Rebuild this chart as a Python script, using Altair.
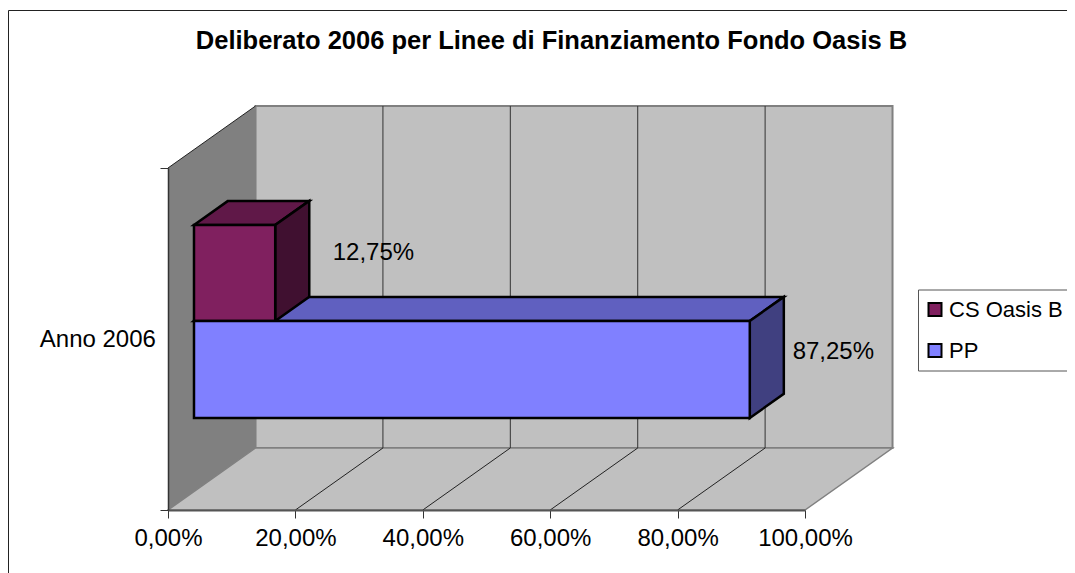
import altair as alt
import pandas as pd

FONT = "Liberation Sans"
TITLE = "Deliberato 2006 per Linee di Finanziamento Fondo Oasis B"
CATEGORY = "Anno 2006"
SERIES = ["CS Oasis B", "PP"]
VALUES = [12.75, 87.25]
TICKS = [0, 20, 40, 60, 80, 100]
FRONT = ["#80205F", "#8080FF"]
TOP = ["#601848", "#6060C0"]
SIDE = ["#401030", "#404080"]

# oblique projection: one unit of depth moves this far along the two axes
DX, DY = 13.74, 0.1813
D0, D1 = 0.297, 0.686
LEVELS = [(0.4988, 0.7795), (0.2152, 0.4988)]
LABEL_SHIFT = [19.5, 17.2]
LABEL_LEVEL = [0.7515, 0.462]

X = alt.X("x:Q", scale=alt.Scale(domain=[0, 100], nice=False, zero=False), title=None,
          axis=alt.Axis(values=TICKS, grid=False, labelExpr="replace(format(datum.value,'.2f'),'.',',')+'%'",
                        labelFont=FONT, labelFontSize=24, labelColor="black", labelPadding=8, labelFlush=False,
                        labelOverlap=False, tickSize=8, tickColor="#333333", domainColor="#555555", domainWidth=2,
                        zindex=1))
Y = alt.Y("y:Q", scale=alt.Scale(domain=[0, 1], nice=False, zero=False), title=None,
          axis=alt.Axis(values=[0, 1], grid=False, labels=False, tickSize=8, tickColor="#333333",
                        domainColor="#333333", domainWidth=1.5, zindex=1))
XP, YP = X, Y


def vface(x0, x1, t0, fill, stroke, sw):
    """face with vertical end edges: x0->x1 are (x, lower level), t0 the upper levels"""
    df = pd.DataFrame({"x": [x0[0], x1[0]], "y": [x0[1], x1[1]], "y2": [t0[0], t0[1]]})
    mark = dict(orient="vertical", fill=fill, strokeJoin="miter")
    if stroke:
        mark.update(stroke=stroke, strokeWidth=sw)
    return alt.Chart(df).mark_area(**mark).encode(x=XP, y=YP, y2="y2:Q")


def hface(y0, y1, x0, x1, fill, stroke, sw):
    """face with horizontal end edges: at level y0 from x0[0] to x1[0], at y1 from x0[1] to x1[1]"""
    df = pd.DataFrame({"y": [y0, y1], "x": [x0[0], x0[1]], "x2": [x1[0], x1[1]]})
    return alt.Chart(df).mark_area(orient="horizontal", fill=fill, stroke=stroke, strokeWidth=sw, strokeJoin="miter").encode(
        y=YP, x=XP, x2="x2:Q")


def line(pts, color, sw):
    df = pd.DataFrame({"x": [p[0] for p in pts], "y": [p[1] for p in pts]})
    return alt.Chart(df).mark_line(color=color, strokeWidth=sw).encode(x=XP, y=YP)


layers = []
# outer frame, cut off by the right and lower page edges
layers.append(alt.Chart(pd.DataFrame({"a": [0]})).mark_rect(fill="white", stroke="#222222", strokeWidth=1).encode(
    x=alt.value(-159.5), x2=alt.value(1000), y=alt.value(-157.5), y2=alt.value(500)))

# walls and floor
layers.append(vface((0, 0), (DX, DY), (1, 1 + DY), "#808080", None, 0))
layers.append(alt.Chart(pd.DataFrame({"x": [DX], "x2": [100 + DX], "y": [DY], "y2": [1 + DY]})).mark_rect(
    fill="#C0C0C0", stroke="#808080", strokeWidth=2).encode(x=XP, x2="x2:Q", y=YP, y2="y2:Q"))
layers.append(hface(0, DY, (0, DX), (100, 100 + DX), "#C0C0C0", "#808080", 1.5))
layers.append(line([(0, 1), (DX, 1 + DY)], "#222222", 1))
for t in TICKS[1:-1]:
    layers.append(line([(t, 0), (t + DX, DY)], "#222222", 1))
    layers.append(line([(t + DX, DY), (t + DX, 1 + DY)], "#333333", 1))

# bars, lower series first
for i in [1, 0]:
    v = VALUES[i]
    lo, hi = LEVELS[i]
    xa, xb = D0 * DX, v + D0 * DX
    xc, xd = D1 * DX, v + D1 * DX
    dya, dyb = D0 * DY, D1 * DY
    layers.append(hface(hi + dya, hi + dyb, (xa, xc), (xb, xd), TOP[i], "black", 2.5))
    layers.append(vface((xb, lo + dya), (xd, lo + dyb), (hi + dya, hi + dyb), SIDE[i], "black", 2.5))

front = pd.DataFrame({
    "series": SERIES,
    "x": [D0 * DX] * 2,
    "x2": [v + D0 * DX for v in VALUES],
    "y": [l[0] + D0 * DY for l in LEVELS],
    "y2": [l[1] + D0 * DY for l in LEVELS],
})
layers.append(alt.Chart(front).mark_rect(stroke="black", strokeWidth=2.5).encode(
    x=XP, x2="x2:Q", y=YP, y2="y2:Q",
    color=alt.Color("series:N", scale=alt.Scale(domain=SERIES, range=FRONT), legend=alt.Legend(
        orient="none", legendX=750, legendY=121.5, title=None, fillColor="white", strokeColor="#555555",
        padding=9, symbolType="square", symbolSize=169, symbolStrokeColor="black", symbolStrokeWidth=2,
        symbolOffset=-3, labelFont=FONT, labelFontSize=22, labelColor="black", labelOffset=3, rowPadding=19,
        labelLimit=300))))

labels = pd.DataFrame({
    "x": [v + s for v, s in zip(VALUES, LABEL_SHIFT)],
    "y": LABEL_LEVEL,
    "t": [f"{v:.2f}".replace(".", ",") + "%" for v in VALUES],
})
layers.append(alt.Chart(labels).mark_text(font=FONT, fontSize=24, color="black").encode(x=XP, y=YP, text="t:N"))
layers.append(alt.Chart(pd.DataFrame({"x": [-1.9], "y": [0.497], "t": [CATEGORY]})).mark_text(
    font=FONT, fontSize=24, color="black", align="right").encode(x=XP, y=YP, text="t:N"))

chart = alt.layer(*layers).resolve_scale(x="shared", y="shared").properties(
    width=637, height=342,
    padding={"left": 160, "top": 160, "right": 262, "bottom": 63},
    autosize=alt.AutoSizeParams(type="none"),
    title=alt.TitleParams(TITLE, font=FONT, fontSize=25.5, fontWeight="bold", color="black",
                          anchor="middle", dx=65, offset=-44),
).configure_view(stroke=None)

chart.save("out.html", embed_options={"renderer": "svg", "actions": False})
